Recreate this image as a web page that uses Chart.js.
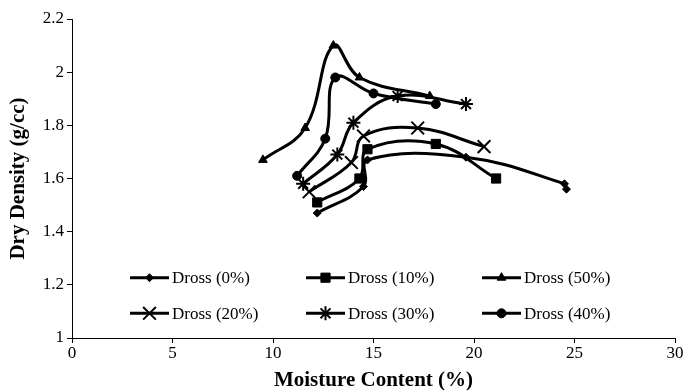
<!DOCTYPE html>
<html>
<head>
<meta charset="utf-8">
<script src="https://cdn.jsdelivr.net/npm/chart.js@4.4.1/dist/chart.umd.min.js"></script>
<style>
  html, body { margin: 0; padding: 0; background: #fff; }
  #wrap { width: 686px; height: 392px; }
</style>
</head>
<body>
<div id="wrap"><canvas id="c" width="686" height="392"></canvas></div>
<script>
// Compaction curves: dry density against moisture content for each dross content
const moisture0  = [12.2, 14.5, 14.7, 19.6, 24.5, 24.6];
const density0   = [1.47, 1.57, 1.67, 1.68, 1.58, 1.56];

const moisture10 = [12.2, 14.3, 14.7, 18.1, 21.1];
const density10  = [1.51, 1.60, 1.71, 1.73, 1.60];

const moisture20 = [11.8, 13.9, 14.5, 17.2, 20.5];
const density20  = [1.55, 1.66, 1.76, 1.79, 1.72];

const moisture30 = [11.5, 13.2, 14.0, 16.2, 19.6];
const density30  = [1.58, 1.69, 1.81, 1.91, 1.88];

const moisture40 = [11.2, 12.6, 13.1, 15.0, 18.1];
const density40  = [1.61, 1.75, 1.98, 1.92, 1.88];

const moisture50 = [9.5, 11.6, 13.0, 14.3, 17.8];
const density50  = [1.67, 1.79, 2.10, 1.98, 1.91];

const seriesNames = ['Dross (0%)', 'Dross (10%)', 'Dross (50%)', 'Dross (20%)', 'Dross (30%)', 'Dross (40%)'];

const xTicks = [0, 5, 10, 15, 20, 25, 30];
const yTicks = [1, 1.2, 1.4, 1.6, 1.8, 2, 2.2];

const SERIF = '"Liberation Serif", "Times New Roman", serif';

function pairs(xs, ys) {
  return xs.map((x, i) => ({ x: x, y: ys[i] }));
}

function series(label, xs, ys, style, radius, bw) {
  return {
    label: label,
    data: pairs(xs, ys),
    showLine: true,
    borderColor: '#000',
    backgroundColor: '#000',
    borderWidth: 3,
    tension: 0.4,
    pointStyle: style,
    pointRadius: radius,
    pointHoverRadius: radius,
    pointBorderWidth: bw,
    pointBorderColor: '#000',
    pointBackgroundColor: '#000'
  };
}

const datasets = [
  series(seriesNames[0], moisture0,  density0,  'rectRot',  4,   1),
  series(seriesNames[1], moisture10, density10, 'rect',     6.5, 1),
  series(seriesNames[2], moisture50, density50, 'triangle', 5,   1),
  series(seriesNames[3], moisture20, density20, 'crossRot', 9,   2),
  series(seriesNames[4], moisture30, density30, 'star',     7,   2),
  series(seriesNames[5], moisture40, density40, 'circle',   4.5, 1)
];

// Two-row legend drawn inside the plot, line sample with its marker
const insideLegend = {
  id: 'insideLegend',
  afterDatasetsDraw(chart) {
    const ctx = chart.ctx;
    const area = chart.chartArea;
    const colX = [58, 234, 410];
    const rowY = [277.7, 313.3];
    ctx.save();
    ctx.font = '17px ' + SERIF;
    ctx.textBaseline = 'middle';
    ctx.textAlign = 'left';
    chart.data.datasets.forEach((ds, i) => {
      const x0 = area.left + colX[i % 3];
      const y = rowY[Math.floor(i / 3)];
      ctx.strokeStyle = '#000';
      ctx.lineWidth = 3;
      ctx.beginPath();
      ctx.moveTo(x0, y);
      ctx.lineTo(x0 + 39, y);
      ctx.stroke();
      ctx.fillStyle = '#000';
      ctx.lineWidth = ds.pointBorderWidth;
      Chart.helpers.drawPoint(ctx, {
        pointStyle: ds.pointStyle,
        radius: ds.pointRadius,
        rotation: 0,
        borderWidth: ds.pointBorderWidth
      }, x0 + 19.5, y);
      ctx.fillStyle = '#000';
      ctx.fillText(ds.label, x0 + 42, y + 1);
    });
    ctx.restore();
  }
};

new Chart(document.getElementById('c'), {
  type: 'scatter',
  data: { datasets: datasets },
  plugins: [insideLegend],
  options: {
    responsive: false,
    animation: false,
    events: [],
    layout: { padding: { top: 19, right: 10, bottom: 0, left: 0 } },
    plugins: {
      legend: { display: false },
      tooltip: { enabled: false }
    },
    scales: {
      x: {
        type: 'linear',
        min: 0,
        max: 30,
        afterBuildTicks(scale) { scale.ticks = xTicks.map(v => ({ value: v })); },
        afterFit(scale) { scale.height = 54; },
        ticks: {
          color: '#000',
          padding: 0,
          font: { family: SERIF, size: 17 },
          maxRotation: 0
        },
        grid: { display: true, drawOnChartArea: false, drawTicks: true, tickLength: 5, color: '#000' },
        border: { display: true, color: '#000', width: 1 },
        title: {
          display: true,
          text: 'Moisture Content (%)',
          color: '#000',
          font: { family: SERIF, size: 21, weight: 'bold', lineHeight: 1.2 },
          padding: { top: 0, bottom: -1 }
        }
      },
      y: {
        type: 'linear',
        min: 1,
        max: 2.2,
        afterBuildTicks(scale) { scale.ticks = yTicks.map(v => ({ value: v })); },
        afterFit(scale) { scale.width = 72; },
        ticks: {
          color: '#000',
          padding: 3,
          font: { family: SERIF, size: 17 },
          callback: v => String(v)
        },
        grid: { display: true, drawOnChartArea: false, drawTicks: true, tickLength: 5, color: '#000' },
        border: { display: true, color: '#000', width: 1 },
        title: {
          display: true,
          text: 'Dry Density (g/cc)',
          color: '#000',
          font: { family: SERIF, size: 21, weight: 'bold', lineHeight: 1.2 },
          padding: { top: 6, bottom: 0 }
        }
      }
    }
  }
});
</script>
</body>
</html>
